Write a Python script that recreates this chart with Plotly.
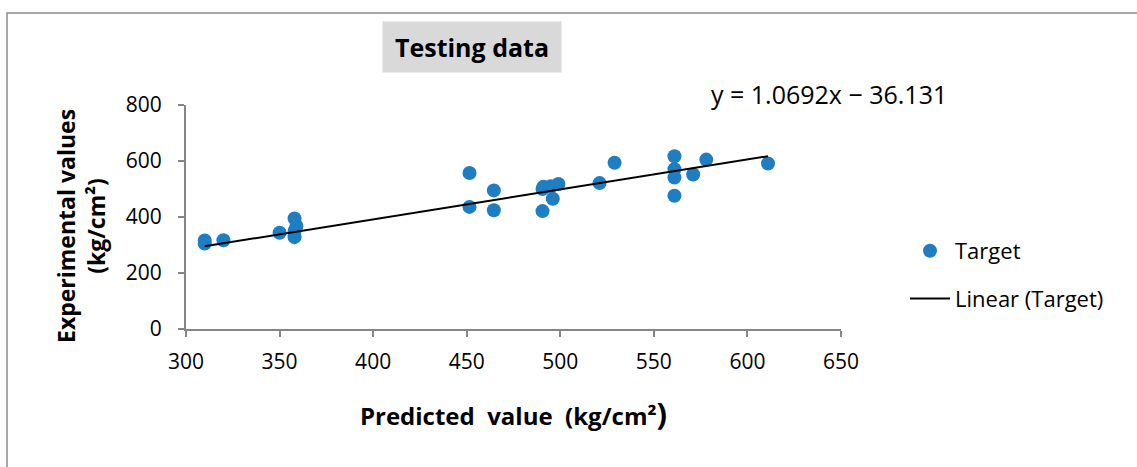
import plotly.graph_objects as go

# Data
predicted = [310, 310, 320, 350, 358, 359, 358, 358, 451.5, 451.5, 464.5, 464.5,
             490.5, 491, 495, 499, 496, 490.5, 521, 529, 561, 561, 561, 561,
             571, 578, 611]
experimental = [305, 316, 317, 344, 395, 368, 350, 328, 557, 436, 495, 424,
                500, 508, 510, 518, 465, 421, 521, 594, 617, 571, 541, 476,
                552, 605, 591]

slope = 1.0692
intercept = -36.131
x_ticks = [300, 350, 400, 450, 500, 550, 600, 650]
y_ticks = [0, 200, 400, 600, 800]

FONT = "Open Sans"
blue = "#1F7DC1"
axis_gray = "#868686"

x_line = [min(predicted), max(predicted)]
y_line = [slope * v + intercept for v in x_line]

fig = go.Figure()
fig.add_trace(go.Scatter(
    x=predicted, y=experimental, mode="markers", name="Target",
    marker=dict(color=blue, size=14), legendgroup="a"))
fig.add_trace(go.Scatter(
    x=x_line, y=y_line, mode="lines", name="Linear (Target)",
    line=dict(color="black", width=2), legendgroup="b"))

W, H = 1137, 467
L, R, T, B = 186, 296, 105, 138
pw = W - L - R
ph = H - T - B

def px(x):
    return (x - L) / pw

def py(y):
    return (H - B - y) / ph

fig.update_layout(
    width=W, height=H,
    margin=dict(l=L, r=R, t=T, b=B),
    paper_bgcolor="white", plot_bgcolor="white",
    font=dict(family=FONT, size=22, color="black"),
    showlegend=True,
    legend=dict(x=px(905), y=py(230), xanchor="left", yanchor="top",
                font=dict(size=22, family=FONT), tracegroupgap=16,
                itemwidth=40,
                traceorder="grouped", bgcolor="rgba(0,0,0,0)"),
    xaxis=dict(range=[300, 650], tickvals=x_ticks, showgrid=False, zeroline=False,
               showline=True, linecolor=axis_gray, linewidth=2,
               ticks="outside", ticklen=6, tickcolor=axis_gray, tickwidth=2,
               ticklabelstandoff=7,
               tickfont=dict(size=21, family=FONT),
               title=dict(text="<b>Predicted  value  (kg/cm²<span style='font-size:31px'>)</span></b>",
                          font=dict(size=24, family=FONT), standoff=34)),
    yaxis=dict(range=[0, 800], tickvals=y_ticks, showgrid=False, zeroline=False,
               showline=True, linecolor=axis_gray, linewidth=2,
               ticks="outside", ticklen=6, tickcolor=axis_gray, tickwidth=2,
               ticklabelstandoff=12,
               tickfont=dict(size=21, family=FONT)),
)

# Y axis title (placed as rotated text)
fig.add_annotation(
    xref="paper", yref="paper", x=px(81), y=py(226), xanchor="center", yanchor="middle",
    text="<b>Experimental values<br>(kg/cm²)</b>", showarrow=False, textangle=-90,
    font=dict(size=23, family=FONT, color="black"))

# Title box
fig.add_annotation(
    xref="paper", yref="paper", x=px(472), y=py(47), xanchor="center", yanchor="middle",
    text="<b>Testing data</b>", showarrow=False,
    font=dict(size=25, family=FONT, color="black"),
    bgcolor="#D9D9D9", width=176, height=48)

# Equation
fig.add_annotation(
    xref="paper", yref="paper", x=px(829), y=py(94), xanchor="center", yanchor="middle",
    text="y = 1.0692x − 36.131", showarrow=False,
    font=dict(size=25, family=FONT, color="black"))

# Outer chart frame
fig.add_shape(type="rect", xref="paper", yref="paper",
              x0=px(7), x1=px(1145), y0=py(475), y1=py(13),
              line=dict(color="#8C8C8C", width=1.5), fillcolor="rgba(0,0,0,0)",
              layer="below")

fig.write_html("out.html")
